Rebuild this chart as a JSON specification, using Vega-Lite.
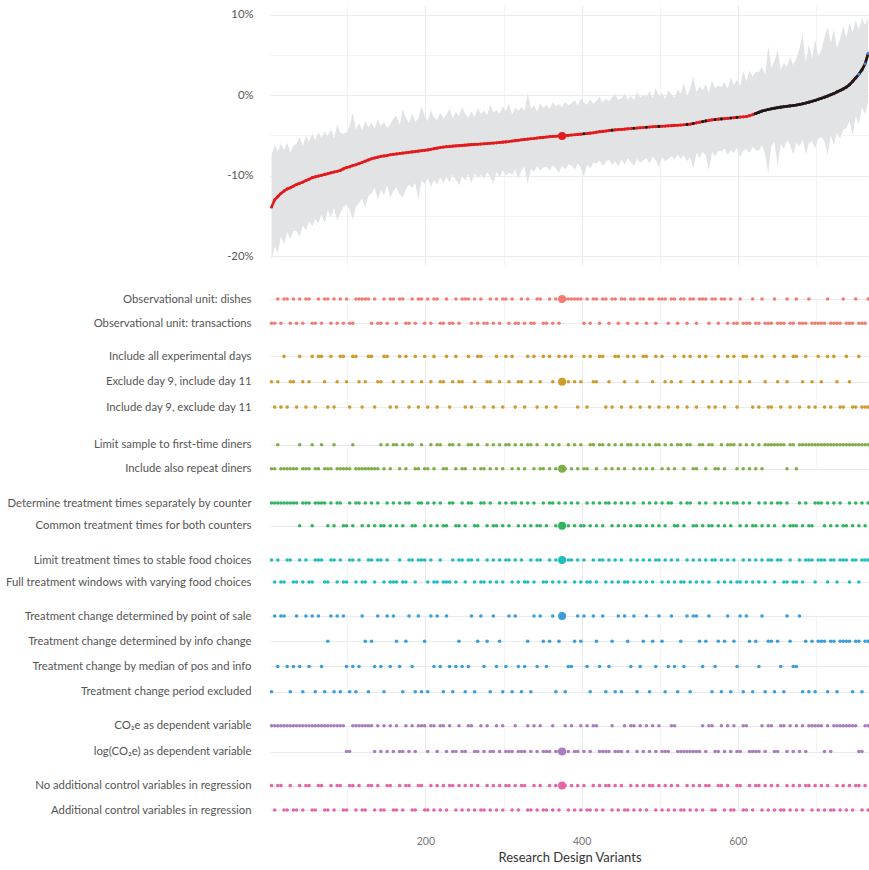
{
"$schema":"https://vega.github.io/schema/vega-lite/v6.json",
"padding":{"left":0,"top":5,"right":0,"bottom":0},
"background":"#ffffff",
"config":{"view":{"stroke":null},"font":"Lato",
"axis":{"domain":false,"ticks":false,"gridColor":"#ebebeb","labelColor":"#555555","labelFont":"Lato","labelFontSize":11.3,"titleFont":"Lato","labelLimit":300},
"axisY":{"labelPadding":19,"minExtent":270,"maxExtent":270,"grid":true,"gridWidth":1.2},
"axisX":{"grid":true}},
"datasets":{"d":[
{"x":3,"e":-13.9,"l":-20.5,"h":-7.4,"s":"neg","a":2,"b":2,"c":2,"d":1,"w":1,"t":4,"v":1,"r":1},
{"x":7,"e":-13.0,"l":-18.8,"h":-6.2,"s":"neg","a":2,"b":3,"c":2,"d":1,"w":2,"t":1,"v":1,"r":2},
{"x":11,"e":-12.6,"l":-19.6,"h":-7.0,"s":"neg","a":1,"b":2,"c":1,"d":1,"w":1,"t":3,"v":1,"r":1},
{"x":15,"e":-12.2,"l":-17.6,"h":-6.0,"s":"neg","a":2,"b":3,"c":2,"d":1,"w":2,"t":1,"v":1,"r":1},
{"x":19,"e":-11.9,"l":-18.5,"h":-6.8,"s":"neg","a":1,"b":1,"c":2,"d":1,"w":2,"t":1,"v":1,"r":2},
{"x":23,"e":-11.65,"l":-17.0,"h":-5.9,"s":"neg","a":1,"b":3,"c":2,"d":1,"w":1,"t":3,"v":1,"r":2},
{"x":27,"e":-11.5,"l":-17.9,"h":-7.1,"s":"neg","a":2,"b":2,"c":2,"d":1,"w":1,"t":4,"v":1,"r":1},
{"x":31,"e":-11.3,"l":-16.8,"h":-6.3,"s":"neg","a":1,"b":2,"c":2,"d":1,"w":2,"t":3,"v":1,"r":2},
{"x":35,"e":-11.1,"l":-16.9,"h":-6.0,"s":"neg","a":2,"b":3,"c":2,"d":1,"w":2,"t":1,"v":1,"r":2},
{"x":39,"e":-10.95,"l":-17.6,"h":-5.2,"s":"neg","a":1,"b":1,"c":1,"d":2,"w":1,"t":3,"v":1,"r":1},
{"x":43,"e":-10.8,"l":-16.2,"h":-6.3,"s":"neg","a":2,"b":2,"c":2,"d":1,"w":2,"t":4,"v":1,"r":2},
{"x":47,"e":-10.6,"l":-16.8,"h":-5.0,"s":"neg","a":1,"b":3,"c":2,"d":1,"w":1,"t":1,"v":1,"r":1},
{"x":51,"e":-10.45,"l":-15.7,"h":-5.8,"s":"neg","a":1,"b":2,"c":2,"d":1,"w":2,"t":3,"v":1,"r":1},
{"x":55,"e":-10.25,"l":-16.3,"h":-4.8,"s":"neg","a":2,"b":1,"c":1,"d":2,"w":2,"t":1,"v":1,"r":2},
{"x":59,"e":-10.15,"l":-15.4,"h":-5.6,"s":"neg","a":2,"b":3,"c":2,"d":1,"w":1,"t":4,"v":1,"r":2},
{"x":63,"e":-10.05,"l":-15.9,"h":-4.6,"s":"neg","a":1,"b":1,"c":2,"d":1,"w":1,"t":1,"v":1,"r":1},
{"x":67,"e":-9.95,"l":-14.8,"h":-5.3,"s":"neg","a":2,"b":1,"c":1,"d":1,"w":1,"t":3,"v":1,"r":1},
{"x":71,"e":-9.85,"l":-15.9,"h":-4.5,"s":"neg","a":1,"b":2,"c":2,"d":1,"w":2,"t":4,"v":1,"r":2},
{"x":75,"e":-9.75,"l":-14.3,"h":-5.1,"s":"neg","a":1,"b":3,"c":2,"d":2,"w":2,"t":2,"v":1,"r":2},
{"x":79,"e":-9.65,"l":-15.2,"h":-4.2,"s":"neg","a":2,"b":1,"c":2,"d":1,"w":1,"t":1,"v":1,"r":1},
{"x":83,"e":-9.55,"l":-14.0,"h":-5.4,"s":"neg","a":1,"b":3,"c":1,"d":2,"w":1,"t":4,"v":1,"r":2},
{"x":87,"e":-9.45,"l":-15.6,"h":-3.6,"s":"neg","a":2,"b":2,"c":2,"d":1,"w":2,"t":1,"v":1,"r":1},
{"x":91,"e":-9.35,"l":-14.6,"h":-4.7,"s":"neg","a":1,"b":1,"c":2,"d":1,"w":1,"t":4,"v":1,"r":1},
{"x":95,"e":-9.15,"l":-13.9,"h":-4.8,"s":"neg","a":2,"b":1,"c":2,"d":2,"w":2,"t":1,"v":1,"r":2},
{"x":99,"e":-9.0,"l":-13.6,"h":-4.6,"s":"neg","a":1,"b":2,"c":2,"d":2,"w":2,"t":3,"v":2,"r":2},
{"x":103,"e":-8.9,"l":-14.2,"h":-3.9,"s":"neg","a":2,"b":3,"c":2,"d":1,"w":1,"t":4,"v":2,"r":1},
{"x":107,"e":-8.75,"l":-15.5,"h":-2.2,"s":"neg","a":2,"b":1,"c":1,"d":2,"w":1,"t":3,"v":1,"r":1},
{"x":111,"e":-8.65,"l":-13.9,"h":-4.3,"s":"neg","a":1,"b":1,"c":2,"d":1,"w":2,"t":4,"v":1,"r":2},
{"x":115,"e":-8.5,"l":-13.4,"h":-3.5,"s":"neg","a":1,"b":2,"c":2,"d":1,"w":1,"t":3,"v":1,"r":1},
{"x":119,"e":-8.35,"l":-12.8,"h":-4.4,"s":"neg","a":1,"b":3,"c":2,"d":2,"w":2,"t":1,"v":1,"r":2},
{"x":123,"e":-8.2,"l":-14.0,"h":-3.2,"s":"neg","a":1,"b":2,"c":2,"d":1,"w":2,"t":2,"v":1,"r":2},
{"x":127,"e":-8.05,"l":-12.5,"h":-4.0,"s":"neg","a":1,"b":1,"c":2,"d":2,"w":1,"t":4,"v":1,"r":1},
{"x":131,"e":-7.9,"l":-12.2,"h":-3.4,"s":"neg","a":2,"b":1,"c":2,"d":1,"w":1,"t":2,"v":1,"r":1},
{"x":135,"e":-7.8,"l":-11.5,"h":-4.2,"s":"neg","a":1,"b":3,"c":2,"d":2,"w":2,"t":3,"v":2,"r":2},
{"x":139,"e":-7.7,"l":-13.0,"h":-3.0,"s":"neg","a":2,"b":2,"c":2,"d":1,"w":1,"t":1,"v":1,"r":1},
{"x":143,"e":-7.6,"l":-11.8,"h":-3.9,"s":"neg","a":2,"b":2,"c":1,"d":2,"w":1,"t":3,"v":2,"r":2},
{"x":147,"e":-7.55,"l":-12.4,"h":-3.3,"s":"neg","a":1,"b":1,"c":2,"d":2,"w":2,"t":4,"v":1,"r":2},
{"x":151,"e":-7.5,"l":-11.2,"h":-4.1,"s":"neg","a":2,"b":1,"c":1,"d":1,"w":1,"t":1,"v":2,"r":1},
{"x":155,"e":-7.4,"l":-12.7,"h":-3.6,"s":"neg","a":1,"b":3,"c":2,"d":2,"w":2,"t":3,"v":1,"r":1},
{"x":159,"e":-7.35,"l":-11.9,"h":-2.9,"s":"neg","a":1,"b":2,"c":1,"d":1,"w":2,"t":1,"v":2,"r":2},
{"x":163,"e":-7.3,"l":-11.4,"h":-2.6,"s":"neg","a":2,"b":3,"c":1,"d":2,"w":2,"t":2,"v":1,"r":2},
{"x":167,"e":-7.25,"l":-12.3,"h":-3.7,"s":"neg","a":1,"b":1,"c":2,"d":1,"w":1,"t":3,"v":2,"r":1},
{"x":171,"e":-7.2,"l":-12.7,"h":-1.8,"s":"neg","a":1,"b":2,"c":1,"d":2,"w":2,"t":4,"v":2,"r":2},
{"x":175,"e":-7.15,"l":-11.7,"h":-2.8,"s":"neg","a":2,"b":1,"c":2,"d":1,"w":2,"t":2,"v":1,"r":1},
{"x":179,"e":-7.1,"l":-11.1,"h":-3.5,"s":"neg","a":2,"b":3,"c":1,"d":1,"w":1,"t":1,"v":2,"r":1},
{"x":183,"e":-7.05,"l":-11.5,"h":-2.3,"s":"neg","a":1,"b":2,"c":1,"d":2,"w":1,"t":3,"v":1,"r":2},
{"x":187,"e":-7.0,"l":-10.9,"h":-3.3,"s":"neg","a":2,"b":1,"c":2,"d":2,"w":2,"t":4,"v":2,"r":2},
{"x":191,"e":-6.95,"l":-13.0,"h":-2.9,"s":"neg","a":1,"b":3,"c":2,"d":1,"w":1,"t":1,"v":1,"r":1},
{"x":195,"e":-6.9,"l":-10.6,"h":-1.4,"s":"neg","a":1,"b":2,"c":1,"d":1,"w":1,"t":4,"v":1,"r":1},
{"x":199,"e":-6.85,"l":-11.0,"h":-2.5,"s":"neg","a":2,"b":1,"c":2,"d":2,"w":1,"t":2,"v":1,"r":2},
{"x":203,"e":-6.8,"l":-10.3,"h":-3.2,"s":"neg","a":1,"b":3,"c":2,"d":1,"w":2,"t":4,"v":2,"r":2},
{"x":207,"e":-6.72,"l":-11.4,"h":-1.9,"s":"neg","a":2,"b":2,"c":1,"d":2,"w":1,"t":1,"v":1,"r":1},
{"x":211,"e":-6.65,"l":-10.5,"h":-2.7,"s":"neg","a":1,"b":1,"c":2,"d":1,"w":2,"t":3,"v":1,"r":2},
{"x":215,"e":-6.58,"l":-11.1,"h":-3.1,"s":"neg","a":1,"b":3,"c":1,"d":2,"w":2,"t":1,"v":2,"r":1},
{"x":219,"e":-6.5,"l":-10.2,"h":-2.2,"s":"neg","a":2,"b":2,"c":1,"d":1,"w":1,"t":3,"v":1,"r":2},
{"x":223,"e":-6.45,"l":-10.9,"h":-2.9,"s":"neg","a":2,"b":2,"c":2,"d":2,"w":2,"t":4,"v":1,"r":1},
{"x":227,"e":-6.4,"l":-10.2,"h":-2.4,"s":"neg","a":1,"b":1,"c":2,"d":2,"w":2,"t":1,"v":2,"r":2},
{"x":231,"e":-6.37,"l":-10.8,"h":-1.7,"s":"neg","a":2,"b":3,"c":1,"d":1,"w":2,"t":3,"v":1,"r":1},
{"x":235,"e":-6.33,"l":-9.9,"h":-2.9,"s":"neg","a":2,"b":2,"c":1,"d":1,"w":1,"t":4,"v":2,"r":1},
{"x":239,"e":-6.3,"l":-10.5,"h":-2.1,"s":"neg","a":1,"b":1,"c":2,"d":2,"w":2,"t":3,"v":2,"r":2},
{"x":243,"e":-6.27,"l":-11.2,"h":-2.6,"s":"neg","a":2,"b":2,"c":1,"d":2,"w":1,"t":2,"v":1,"r":1},
{"x":247,"e":-6.24,"l":-10.0,"h":-1.5,"s":"neg","a":1,"b":2,"c":2,"d":1,"w":1,"t":3,"v":2,"r":2},
{"x":251,"e":-6.21,"l":-10.6,"h":-2.3,"s":"neg","a":1,"b":3,"c":2,"d":2,"w":2,"t":4,"v":2,"r":1},
{"x":255,"e":-6.18,"l":-9.8,"h":-2.8,"s":"neg","a":1,"b":1,"c":1,"d":1,"w":1,"t":3,"v":1,"r":2},
{"x":259,"e":-6.15,"l":-10.9,"h":-2.0,"s":"neg","a":2,"b":3,"c":1,"d":1,"w":1,"t":1,"v":1,"r":1},
{"x":263,"e":-6.12,"l":-9.7,"h":-2.7,"s":"neg","a":1,"b":2,"c":2,"d":2,"w":2,"t":4,"v":2,"r":2},
{"x":267,"e":-6.1,"l":-10.3,"h":-1.6,"s":"neg","a":2,"b":1,"c":1,"d":2,"w":1,"t":2,"v":2,"r":1},
{"x":271,"e":-6.07,"l":-9.9,"h":-2.3,"s":"neg","a":1,"b":1,"c":2,"d":1,"w":2,"t":1,"v":1,"r":2},
{"x":275,"e":-6.04,"l":-10.4,"h":-1.9,"s":"neg","a":2,"b":3,"c":2,"d":1,"w":2,"t":3,"v":2,"r":2},
{"x":279,"e":-6.01,"l":-9.6,"h":-2.5,"s":"neg","a":2,"b":2,"c":1,"d":2,"w":1,"t":2,"v":1,"r":1},
{"x":283,"e":-5.98,"l":-10.1,"h":-1.2,"s":"neg","a":1,"b":2,"c":2,"d":1,"w":2,"t":4,"v":2,"r":2},
{"x":287,"e":-5.95,"l":-11.0,"h":-2.2,"s":"neg","a":2,"b":3,"c":1,"d":2,"w":1,"t":1,"v":2,"r":1},
{"x":291,"e":-5.92,"l":-9.5,"h":-1.8,"s":"neg","a":1,"b":1,"c":2,"d":2,"w":2,"t":3,"v":1,"r":2},
{"x":295,"e":-5.88,"l":-10.2,"h":-2.3,"s":"neg","a":2,"b":2,"c":1,"d":1,"w":1,"t":2,"v":2,"r":1},
{"x":299,"e":-5.84,"l":-9.3,"h":-1.4,"s":"neg","a":1,"b":3,"c":2,"d":2,"w":2,"t":4,"v":1,"r":2},
{"x":303,"e":-5.8,"l":-10.0,"h":-2.0,"s":"neg","a":1,"b":1,"c":1,"d":1,"w":1,"t":3,"v":2,"r":1},
{"x":307,"e":-5.76,"l":-9.6,"h":-1.1,"s":"neg","a":2,"b":2,"c":1,"d":2,"w":1,"t":1,"v":2,"r":1},
{"x":311,"e":-5.7,"l":-9.9,"h":-2.4,"s":"neg","a":1,"b":1,"c":2,"d":1,"w":2,"t":4,"v":2,"r":2},
{"x":315,"e":-5.65,"l":-9.2,"h":-1.6,"s":"neg","a":2,"b":3,"c":1,"d":1,"w":1,"t":1,"v":1,"r":1},
{"x":319,"e":-5.6,"l":-10.4,"h":-1.9,"s":"neg","a":2,"b":2,"c":2,"d":2,"w":2,"t":3,"v":2,"r":2},
{"x":323,"e":-5.55,"l":-9.3,"h":-1.5,"s":"neg","a":1,"b":2,"c":1,"d":1,"w":1,"t":4,"v":2,"r":1},
{"x":327,"e":-5.5,"l":-8.9,"h":-1.9,"s":"neg","a":2,"b":3,"c":2,"d":2,"w":2,"t":3,"v":2,"r":1},
{"x":331,"e":-5.46,"l":-11.1,"h":0.3,"s":"neg","a":1,"b":1,"c":1,"d":1,"w":2,"t":2,"v":1,"r":2},
{"x":335,"e":-5.42,"l":-9.1,"h":-1.7,"s":"neg","a":2,"b":2,"c":1,"d":2,"w":1,"t":4,"v":2,"r":2},
{"x":339,"e":-5.38,"l":-9.5,"h":-1.3,"s":"neg","a":2,"b":1,"c":2,"d":1,"w":2,"t":1,"v":1,"r":1},
{"x":343,"e":-5.33,"l":-8.8,"h":-2.0,"s":"neg","a":1,"b":3,"c":1,"d":2,"w":1,"t":3,"v":2,"r":2},
{"x":347,"e":-5.28,"l":-9.4,"h":-1.0,"s":"neg","a":1,"b":2,"c":2,"d":2,"w":1,"t":1,"v":1,"r":1},
{"x":351,"e":-5.24,"l":-9.0,"h":-1.6,"s":"neg","a":2,"b":1,"c":2,"d":1,"w":2,"t":2,"v":2,"r":2},
{"x":355,"e":-5.2,"l":-8.9,"h":-1.2,"s":"neg","a":2,"b":3,"c":1,"d":2,"w":2,"t":3,"v":2,"r":2},
{"x":359,"e":-5.16,"l":-9.4,"h":-1.7,"s":"neg","a":1,"b":1,"c":2,"d":1,"w":1,"t":2,"v":2,"r":1},
{"x":363,"e":-5.13,"l":-8.7,"h":-0.9,"s":"neg","a":2,"b":2,"c":1,"d":1,"w":2,"t":1,"v":1,"r":2},
{"x":367,"e":-5.1,"l":-9.1,"h":-1.4,"s":"neg","a":1,"b":3,"c":2,"d":2,"w":1,"t":4,"v":2,"r":1},
{"x":371,"e":-5.08,"l":-9.6,"h":-1.1,"s":"neg","a":2,"b":1,"c":1,"d":1,"w":2,"t":2,"v":2,"r":2},
{"x":375,"e":-5.06,"l":-8.8,"h":-1.5,"s":"neg","a":1,"b":2,"c":2,"d":2,"w":1,"t":1,"v":2,"r":1},
{"x":379,"e":-5.03,"l":-9.2,"h":-0.8,"s":"neg","a":1,"b":1,"c":2,"d":1,"w":2,"t":4,"v":1,"r":1},
{"x":383,"e":-4.99,"l":-8.6,"h":-1.3,"s":"neg","a":1,"b":2,"c":1,"d":2,"w":1,"t":3,"v":2,"r":2},
{"x":387,"e":-4.95,"l":-8.7,"h":-1.0,"s":"neg","a":1,"b":1,"c":2,"d":1,"w":1,"t":3,"v":1,"r":1},
{"x":391,"e":-4.92,"l":-9.3,"h":-0.6,"s":"neg","a":1,"b":2,"c":1,"d":2,"w":2,"t":2,"v":2,"r":2},
{"x":395,"e":-4.88,"l":-8.5,"h":-1.3,"s":"neg","a":1,"b":3,"c":2,"d":1,"w":1,"t":1,"v":2,"r":1},
{"x":399,"e":-4.85,"l":-9.0,"h":-0.4,"s":"neg","a":1,"b":2,"c":1,"d":2,"w":2,"t":2,"v":1,"r":2},
{"x":403,"e":-4.8,"l":-10.1,"h":-0.9,"s":"ns","a":2,"b":1,"c":2,"d":2,"w":1,"t":1,"v":2,"r":1},
{"x":407,"e":-4.76,"l":-8.6,"h":-1.2,"s":"neg","a":1,"b":3,"c":2,"d":1,"w":2,"t":3,"v":1,"r":2},
{"x":411,"e":-4.72,"l":-9.1,"h":-0.5,"s":"neg","a":2,"b":1,"c":1,"d":2,"w":2,"t":4,"v":2,"r":2},
{"x":415,"e":-4.68,"l":-8.4,"h":-1.1,"s":"neg","a":1,"b":2,"c":1,"d":1,"w":1,"t":1,"v":1,"r":1},
{"x":419,"e":-4.6,"l":-8.5,"h":-0.7,"s":"neg","a":1,"b":2,"c":2,"d":2,"w":2,"t":2,"v":1,"r":2},
{"x":423,"e":-4.54,"l":-8.1,"h":-0.2,"s":"neg","a":2,"b":1,"c":1,"d":1,"w":1,"t":3,"v":2,"r":1},
{"x":427,"e":-4.5,"l":-8.8,"h":-0.9,"s":"neg","a":1,"b":1,"c":1,"d":2,"w":1,"t":1,"v":2,"r":2},
{"x":431,"e":-4.45,"l":-8.3,"h":-0.4,"s":"neg","a":1,"b":3,"c":2,"d":1,"w":2,"t":4,"v":2,"r":1},
{"x":435,"e":-4.4,"l":-8.0,"h":-0.8,"s":"neg","a":2,"b":2,"c":1,"d":1,"w":1,"t":3,"v":2,"r":1},
{"x":439,"e":-4.35,"l":-8.6,"h":-0.3,"s":"ns","a":1,"b":3,"c":2,"d":2,"w":2,"t":2,"v":1,"r":2},
{"x":443,"e":-4.31,"l":-8.2,"h":0.1,"s":"neg","a":1,"b":1,"c":1,"d":1,"w":1,"t":4,"v":2,"r":1},
{"x":447,"e":-4.28,"l":-8.9,"h":-0.6,"s":"neg","a":2,"b":1,"c":2,"d":2,"w":2,"t":1,"v":2,"r":2},
{"x":451,"e":-4.25,"l":-8.0,"h":-0.4,"s":"neg","a":1,"b":3,"c":1,"d":1,"w":1,"t":4,"v":2,"r":1},
{"x":455,"e":-4.22,"l":-8.6,"h":0.2,"s":"neg","a":1,"b":2,"c":2,"d":2,"w":2,"t":1,"v":1,"r":2},
{"x":459,"e":-4.18,"l":-7.8,"h":-0.5,"s":"neg","a":2,"b":1,"c":1,"d":1,"w":2,"t":2,"v":2,"r":2},
{"x":463,"e":-4.15,"l":-8.3,"h":-0.1,"s":"neg","a":1,"b":3,"c":1,"d":2,"w":1,"t":3,"v":1,"r":1},
{"x":467,"e":-4.11,"l":-8.8,"h":-0.6,"s":"ns","a":1,"b":1,"c":2,"d":1,"w":2,"t":1,"v":1,"r":2},
{"x":471,"e":-4.08,"l":-7.9,"h":0.4,"s":"neg","a":2,"b":2,"c":1,"d":2,"w":1,"t":4,"v":2,"r":1},
{"x":475,"e":-4.05,"l":-8.4,"h":-0.3,"s":"neg","a":1,"b":3,"c":2,"d":2,"w":2,"t":3,"v":1,"r":2},
{"x":479,"e":-4.02,"l":-8.1,"h":0.0,"s":"neg","a":1,"b":1,"c":1,"d":1,"w":1,"t":2,"v":2,"r":1},
{"x":483,"e":-3.99,"l":-7.8,"h":-0.2,"s":"ns","a":2,"b":1,"c":2,"d":2,"w":2,"t":1,"v":1,"r":2},
{"x":487,"e":-3.96,"l":-8.5,"h":0.5,"s":"neg","a":1,"b":3,"c":1,"d":1,"w":1,"t":4,"v":2,"r":1},
{"x":491,"e":-3.93,"l":-7.6,"h":-0.4,"s":"neg","a":1,"b":2,"c":2,"d":2,"w":2,"t":2,"v":1,"r":1},
{"x":495,"e":-3.9,"l":-8.1,"h":0.9,"s":"neg","a":2,"b":1,"c":1,"d":1,"w":1,"t":3,"v":2,"r":2},
{"x":499,"e":-3.88,"l":-9.0,"h":-0.1,"s":"ns","a":1,"b":3,"c":1,"d":2,"w":1,"t":1,"v":1,"r":1},
{"x":503,"e":-3.86,"l":-7.7,"h":0.3,"s":"neg","a":1,"b":1,"c":2,"d":1,"w":2,"t":2,"v":2,"r":2},
{"x":507,"e":-3.84,"l":-8.2,"h":-0.5,"s":"neg","a":1,"b":2,"c":1,"d":2,"w":1,"t":4,"v":2,"r":1},
{"x":511,"e":-3.81,"l":-7.9,"h":0.6,"s":"neg","a":2,"b":3,"c":2,"d":1,"w":2,"t":3,"v":2,"r":2},
{"x":515,"e":-3.79,"l":-7.6,"h":0.1,"s":"neg","a":1,"b":2,"c":1,"d":1,"w":1,"t":1,"v":1,"r":1},
{"x":519,"e":-3.76,"l":-8.0,"h":-0.3,"s":"neg","a":1,"b":1,"c":2,"d":2,"w":2,"t":3,"v":1,"r":2},
{"x":523,"e":-3.74,"l":-7.4,"h":0.7,"s":"neg","a":2,"b":3,"c":1,"d":2,"w":1,"t":4,"v":2,"r":1},
{"x":527,"e":-3.71,"l":-7.9,"h":0.2,"s":"neg","a":1,"b":2,"c":1,"d":1,"w":2,"t":2,"v":2,"r":2},
{"x":531,"e":-3.68,"l":-7.5,"h":1.5,"s":"neg","a":1,"b":1,"c":2,"d":2,"w":2,"t":3,"v":2,"r":2},
{"x":535,"e":-3.64,"l":-8.2,"h":-0.1,"s":"ns","a":2,"b":3,"c":1,"d":1,"w":1,"t":1,"v":2,"r":1},
{"x":539,"e":-3.6,"l":-7.7,"h":0.8,"s":"neg","a":1,"b":1,"c":1,"d":1,"w":2,"t":4,"v":2,"r":2},
{"x":543,"e":-3.52,"l":-9.1,"h":2.3,"s":"ns","a":1,"b":2,"c":2,"d":2,"w":1,"t":1,"v":2,"r":1},
{"x":547,"e":-3.44,"l":-7.2,"h":0.4,"s":"neg","a":2,"b":3,"c":2,"d":2,"w":2,"t":1,"v":2,"r":2},
{"x":551,"e":-3.36,"l":-7.8,"h":1.1,"s":"neg","a":1,"b":1,"c":1,"d":1,"w":1,"t":2,"v":2,"r":1},
{"x":555,"e":-3.28,"l":-7.0,"h":0.6,"s":"ns","a":1,"b":2,"c":1,"d":2,"w":2,"t":3,"v":1,"r":2},
{"x":559,"e":-3.2,"l":-7.5,"h":1.4,"s":"ns","a":1,"b":1,"c":2,"d":1,"w":1,"t":2,"v":2,"r":1},
{"x":563,"e":-3.13,"l":-9.3,"h":0.3,"s":"neg","a":2,"b":3,"c":1,"d":2,"w":2,"t":1,"v":1,"r":1},
{"x":567,"e":-3.07,"l":-7.1,"h":1.8,"s":"neg","a":1,"b":2,"c":1,"d":2,"w":1,"t":4,"v":1,"r":2},
{"x":571,"e":-3.02,"l":-7.6,"h":0.9,"s":"ns","a":1,"b":3,"c":2,"d":1,"w":1,"t":3,"v":2,"r":2},
{"x":575,"e":-2.98,"l":-6.9,"h":1.2,"s":"neg","a":2,"b":1,"c":2,"d":2,"w":2,"t":2,"v":2,"r":1},
{"x":579,"e":-2.95,"l":-7.0,"h":1.0,"s":"ns","a":1,"b":2,"c":1,"d":1,"w":1,"t":4,"v":1,"r":1},
{"x":583,"e":-2.92,"l":-6.6,"h":1.6,"s":"neg","a":1,"b":3,"c":2,"d":2,"w":2,"t":2,"v":2,"r":2},
{"x":587,"e":-2.88,"l":-7.4,"h":0.8,"s":"neg","a":2,"b":1,"c":1,"d":1,"w":1,"t":1,"v":1,"r":1},
{"x":591,"e":-2.84,"l":-6.8,"h":2.2,"s":"ns","a":1,"b":2,"c":1,"d":2,"w":2,"t":4,"v":2,"r":2},
{"x":595,"e":-2.8,"l":-7.2,"h":1.3,"s":"neg","a":2,"b":1,"c":1,"d":1,"w":1,"t":2,"v":1,"r":2},
{"x":599,"e":-2.76,"l":-6.5,"h":1.9,"s":"ns","a":2,"b":3,"c":2,"d":1,"w":2,"t":3,"v":2,"r":1},
{"x":603,"e":-2.72,"l":-7.7,"h":1.1,"s":"neg","a":1,"b":2,"c":1,"d":2,"w":2,"t":1,"v":2,"r":1},
{"x":607,"e":-2.69,"l":-6.9,"h":3.0,"s":"neg","a":2,"b":1,"c":2,"d":1,"w":1,"t":4,"v":1,"r":2},
{"x":611,"e":-2.65,"l":-6.7,"h":1.7,"s":"neg","a":2,"b":1,"c":1,"d":2,"w":2,"t":1,"v":1,"r":2},
{"x":615,"e":-2.55,"l":-7.2,"h":3.1,"s":"neg","a":2,"b":2,"c":2,"d":1,"w":1,"t":2,"v":2,"r":1},
{"x":619,"e":-2.42,"l":-6.4,"h":2.3,"s":"neg","a":1,"b":3,"c":1,"d":2,"w":2,"t":4,"v":2,"r":2},
{"x":623,"e":-2.28,"l":-6.8,"h":2.9,"s":"ns","a":2,"b":1,"c":2,"d":2,"w":1,"t":2,"v":2,"r":1},
{"x":627,"e":-2.13,"l":-6.9,"h":2.8,"s":"ns","a":2,"b":3,"c":1,"d":1,"w":2,"t":3,"v":2,"r":1},
{"x":631,"e":-1.98,"l":-6.2,"h":3.6,"s":"ns","a":1,"b":1,"c":2,"d":2,"w":1,"t":1,"v":1,"r":2},
{"x":635,"e":-1.88,"l":-7.4,"h":2.5,"s":"ns","a":2,"b":2,"c":1,"d":1,"w":2,"t":4,"v":2,"r":1},
{"x":639,"e":-1.78,"l":-9.7,"h":6.1,"s":"ns","a":2,"b":3,"c":1,"d":2,"w":1,"t":2,"v":1,"r":2},
{"x":643,"e":-1.7,"l":-6.3,"h":3.4,"s":"ns","a":2,"b":3,"c":1,"d":1,"w":1,"t":2,"v":1,"r":1},
{"x":647,"e":-1.62,"l":-5.8,"h":4.3,"s":"ns","a":1,"b":1,"c":1,"d":2,"w":2,"t":4,"v":2,"r":2},
{"x":651,"e":-1.55,"l":-8.9,"h":5.6,"s":"ns","a":2,"b":2,"c":1,"d":1,"w":1,"t":2,"v":2,"r":1},
{"x":655,"e":-1.49,"l":-6.0,"h":3.1,"s":"ns","a":2,"b":3,"c":1,"d":1,"w":1,"t":3,"v":1,"r":2},
{"x":659,"e":-1.43,"l":-6.7,"h":4.0,"s":"ns","a":2,"b":1,"c":1,"d":2,"w":2,"t":4,"v":1,"r":2},
{"x":663,"e":-1.38,"l":-5.6,"h":3.5,"s":"ns","a":1,"b":2,"c":2,"d":1,"w":2,"t":1,"v":2,"r":1},
{"x":667,"e":-1.33,"l":-6.2,"h":4.8,"s":"ns","a":2,"b":3,"c":1,"d":2,"w":1,"t":2,"v":1,"r":2},
{"x":671,"e":-1.28,"l":-7.3,"h":3.7,"s":"ns","a":2,"b":1,"c":1,"d":2,"w":2,"t":3,"v":2,"r":1},
{"x":675,"e":-1.22,"l":-5.9,"h":4.6,"s":"ns","a":1,"b":1,"c":2,"d":2,"w":2,"t":3,"v":1,"r":2},
{"x":679,"e":-1.15,"l":-6.4,"h":5.8,"s":"ns","a":2,"b":3,"c":1,"d":1,"w":1,"t":1,"v":2,"r":1},
{"x":683,"e":-1.08,"l":-5.5,"h":7.6,"s":"ns","a":2,"b":2,"c":1,"d":2,"w":2,"t":4,"v":1,"r":2},
{"x":687,"e":-0.98,"l":-7.3,"h":4.1,"s":"ns","a":2,"b":1,"c":1,"d":1,"w":1,"t":2,"v":2,"r":1},
{"x":691,"e":-0.87,"l":-6.0,"h":6.3,"s":"ns","a":1,"b":3,"c":1,"d":2,"w":1,"t":4,"v":1,"r":1},
{"x":695,"e":-0.76,"l":-5.7,"h":4.5,"s":"ns","a":2,"b":2,"c":1,"d":2,"w":1,"t":2,"v":1,"r":2},
{"x":699,"e":-0.65,"l":-6.6,"h":6.9,"s":"ns","a":2,"b":3,"c":1,"d":1,"w":2,"t":4,"v":1,"r":1},
{"x":703,"e":-0.52,"l":-5.4,"h":4.9,"s":"ns","a":2,"b":1,"c":1,"d":1,"w":1,"t":2,"v":1,"r":2},
{"x":707,"e":-0.38,"l":-5.2,"h":5.6,"s":"ns","a":2,"b":2,"c":1,"d":1,"w":1,"t":2,"v":1,"r":1},
{"x":711,"e":-0.25,"l":-5.8,"h":7.2,"s":"ns","a":2,"b":3,"c":1,"d":2,"w":1,"t":2,"v":2,"r":2},
{"x":715,"e":-0.1,"l":-7.4,"h":8.5,"s":"ns","a":1,"b":1,"c":1,"d":1,"w":2,"t":4,"v":1,"r":1},
{"x":719,"e":0.05,"l":-5.0,"h":6.5,"s":"ns","a":2,"b":3,"c":1,"d":2,"w":1,"t":2,"v":2,"r":2},
{"x":723,"e":0.2,"l":-6.2,"h":8.1,"s":"ns","a":2,"b":1,"c":1,"d":1,"w":1,"t":2,"v":1,"r":2},
{"x":727,"e":0.4,"l":-4.6,"h":5.9,"s":"ns","a":2,"b":2,"c":1,"d":2,"w":2,"t":4,"v":1,"r":1},
{"x":731,"e":0.58,"l":-5.4,"h":7.0,"s":"ns","a":2,"b":3,"c":1,"d":1,"w":1,"t":2,"v":1,"r":2},
{"x":735,"e":0.78,"l":-4.3,"h":8.6,"s":"ns","a":1,"b":3,"c":1,"d":2,"w":1,"t":2,"v":1,"r":1},
{"x":739,"e":1.0,"l":-4.1,"h":7.1,"s":"ns","a":2,"b":1,"c":1,"d":2,"w":1,"t":2,"v":1,"r":2},
{"x":743,"e":1.3,"l":-3.2,"h":9.0,"s":"ns","a":2,"b":2,"c":1,"d":1,"w":2,"t":2,"v":1,"r":1},
{"x":747,"e":1.7,"l":-5.0,"h":7.8,"s":"ns","a":2,"b":3,"c":1,"d":2,"w":1,"t":4,"v":1,"r":2},
{"x":751,"e":2.15,"l":-2.6,"h":9.3,"s":"ns","a":1,"b":3,"c":1,"d":1,"w":1,"t":2,"v":1,"r":1},
{"x":755,"e":2.6,"l":-3.6,"h":8.2,"s":"pos","a":2,"b":1,"c":1,"d":2,"w":2,"t":2,"v":2,"r":1},
{"x":759,"e":3.15,"l":-1.5,"h":9.5,"s":"ns","a":2,"b":3,"c":1,"d":1,"w":1,"t":4,"v":2,"r":2},
{"x":763,"e":3.9,"l":-2.4,"h":8.7,"s":"pos","a":2,"b":3,"c":1,"d":2,"w":1,"t":2,"v":1,"r":1},
{"x":767,"e":5.2,"l":-0.8,"h":9.6,"s":"pos","a":1,"b":3,"c":1,"d":1,"w":1,"t":2,"v":1,"r":2}
]},
"data":{"name":"d"},
"spacing":18,
"vconcat":[
{"width":599,"height":260,
 "encoding":{"x":{"field":"x","type":"quantitative","scale":{"domain":[1,768],"nice":false,"zero":false},"axis":{"values":[100,200,300,400,500,600,700],"labels":false,"title":null,"gridWidth":{"condition":{"test":"datum.value % 200 === 0","value":1.1},"value":0.55}}}},
 "layer":[
  {"mark":{"type":"area","color":"#e2e3e5","opacity":1},"encoding":{"y":{"field":"l","type":"quantitative","scale":{"domain":[-21.1,11.2],"nice":false,"zero":false},"axis":{"title":null,"values":[-20,-15,-10,-5,0,5,10],"labelExpr":"datum.value % 10 === 0 ? datum.value + '%' : ''","labelPadding":17,"gridWidth":{"condition":{"test":"datum.value % 10 === 0","value":1.1},"value":0.55}}},"y2":{"field":"h"}}},
  {"mark":{"type":"line","color":"#E41A1C","strokeWidth":2.6},"encoding":{"y":{"field":"e","type":"quantitative","axis":{"title":null}}}},
  {"transform":[{"filter":{"field":"x","gte":619}}],"mark":{"type":"line","color":"#1A1A1A","strokeWidth":2.6},"encoding":{"y":{"field":"e","type":"quantitative","axis":{"title":null}}}},
  {"mark":{"type":"circle","size":10,"opacity":1},"encoding":{"y":{"field":"e","type":"quantitative","axis":{"title":null}},"color":{"field":"s","type":"nominal","scale":{"domain":["neg","ns","pos"],"range":["#E41A1C","#1A1A1A","#3A8BD0"]},"legend":null}}},
  {"transform":[{"filter":{"field":"x","equal":375}}],"mark":{"type":"circle","size":64,"color":"#E41A1C","opacity":1},"encoding":{"y":{"field":"e","type":"quantitative","axis":{"title":null}}}}
 ]},
{"spacing":0,"vconcat":[
 {"width":599,"height":56.7,
  "encoding":{"x":{"field":"x","type":"quantitative","scale":{"domain":[1,768],"nice":false,"zero":false},"axis":{"values":[100,200,300,400,500,600,700],"labels":false,"title":null,"gridWidth":{"condition":{"test":"datum.value % 200 === 0","value":1.1},"value":0.55}}},
   "y":{"field":"a","type":"ordinal","scale":{"type":"point","domain":[1,2],"range":[16,40.3],"padding":0},"axis":{"title":null,"labelExpr":"['','Observational unit: dishes','Observational unit: transactions'][datum.value]"}},
   "color":{"value":"#F47B74"}},
  "layer":[{"mark":{"type":"circle","size":13,"opacity":1}},{"transform":[{"filter":{"field":"x","equal":375}}],"mark":{"type":"circle","size":64,"opacity":1}}]},
 {"width":599,"height":85.8,
  "encoding":{"x":{"field":"x","type":"quantitative","scale":{"domain":[1,768],"nice":false,"zero":false},"axis":{"values":[100,200,300,400,500,600,700],"labels":false,"title":null,"gridWidth":{"condition":{"test":"datum.value % 200 === 0","value":1.1},"value":0.55}}},
   "y":{"field":"b","type":"ordinal","scale":{"type":"point","domain":[1,2,3],"range":[16.4,67.1],"padding":0},"axis":{"title":null,"labelExpr":"['','Include all experimental days','Exclude day 9, include day 11','Include day 9, exclude day 11'][datum.value]"}},
   "color":{"value":"#CF9A2E"}},
  "layer":[{"mark":{"type":"circle","size":13,"opacity":1}},{"transform":[{"filter":{"field":"x","equal":375}}],"mark":{"type":"circle","size":64,"opacity":1}}]},
 {"width":599,"height":59.8,
  "encoding":{"x":{"field":"x","type":"quantitative","scale":{"domain":[1,768],"nice":false,"zero":false},"axis":{"values":[100,200,300,400,500,600,700],"labels":false,"title":null,"gridWidth":{"condition":{"test":"datum.value % 200 === 0","value":1.1},"value":0.55}}},
   "y":{"field":"c","type":"ordinal","scale":{"type":"point","domain":[1,2],"range":[18.8,42.8],"padding":0},"axis":{"title":null,"labelExpr":"['','Limit sample to first-time diners','Include also repeat diners'][datum.value]"}},
   "color":{"value":"#7FAE47"}},
  "layer":[{"mark":{"type":"circle","size":13,"opacity":1}},{"transform":[{"filter":{"field":"x","equal":375}}],"mark":{"type":"circle","size":64,"opacity":1}}]},
 {"width":599,"height":56.7,
  "encoding":{"x":{"field":"x","type":"quantitative","scale":{"domain":[1,768],"nice":false,"zero":false},"axis":{"values":[100,200,300,400,500,600,700],"labels":false,"title":null,"gridWidth":{"condition":{"test":"datum.value % 200 === 0","value":1.1},"value":0.55}}},
   "y":{"field":"d","type":"ordinal","scale":{"type":"point","domain":[1,2],"range":[17,39.7],"padding":0},"axis":{"title":null,"labelExpr":"['','Determine treatment times separately by counter','Common treatment times for both counters'][datum.value]"}},
   "color":{"value":"#2FB560"}},
  "layer":[{"mark":{"type":"circle","size":13,"opacity":1}},{"transform":[{"filter":{"field":"x","equal":375}}],"mark":{"type":"circle","size":64,"opacity":1}}]},
 {"width":599,"height":56,
  "encoding":{"x":{"field":"x","type":"quantitative","scale":{"domain":[1,768],"nice":false,"zero":false},"axis":{"values":[100,200,300,400,500,600,700],"labels":false,"title":null,"gridWidth":{"condition":{"test":"datum.value % 200 === 0","value":1.1},"value":0.55}}},
   "y":{"field":"w","type":"ordinal","scale":{"type":"point","domain":[1,2],"range":[17,39],"padding":0},"axis":{"title":null,"labelExpr":"['','Limit treatment times to stable food choices','Full treatment windows with varying food choices'][datum.value]"}},
   "color":{"value":"#20BCC0"}},
  "layer":[{"mark":{"type":"circle","size":13,"opacity":1}},{"transform":[{"filter":{"field":"x","equal":375}}],"mark":{"type":"circle","size":64,"opacity":1}}]},
 {"width":599,"height":109.5,
  "encoding":{"x":{"field":"x","type":"quantitative","scale":{"domain":[1,768],"nice":false,"zero":false},"axis":{"values":[100,200,300,400,500,600,700],"labels":false,"title":null,"gridWidth":{"condition":{"test":"datum.value % 200 === 0","value":1.1},"value":0.55}}},
   "y":{"field":"t","type":"ordinal","scale":{"type":"point","domain":[1,2,3,4],"range":[17,92.7],"padding":0},"axis":{"title":null,"labelExpr":"['','Treatment change determined by point of sale','Treatment change determined by info change','Treatment change by median of pos and info','Treatment change period excluded'][datum.value]"}},
   "color":{"value":"#3A9EDB"}},
  "layer":[{"mark":{"type":"circle","size":13,"opacity":1}},{"transform":[{"filter":{"field":"x","equal":375}}],"mark":{"type":"circle","size":64,"opacity":1}}]},
 {"width":599,"height":59.2,
  "encoding":{"x":{"field":"x","type":"quantitative","scale":{"domain":[1,768],"nice":false,"zero":false},"axis":{"values":[100,200,300,400,500,600,700],"labels":false,"title":null,"gridWidth":{"condition":{"test":"datum.value % 200 === 0","value":1.1},"value":0.55}}},
   "y":{"field":"v","type":"ordinal","scale":{"type":"point","domain":[1,2],"range":[16.8,42.5],"padding":0},"axis":{"title":null,"labelExpr":"['','CO₂e as dependent variable','log(CO₂e) as dependent variable'][datum.value]"}},
   "color":{"value":"#A97EBD"}},
  "layer":[{"mark":{"type":"circle","size":13,"opacity":1}},{"transform":[{"filter":{"field":"x","equal":375}}],"mark":{"type":"circle","size":64,"opacity":1}}]},
 {"width":599,"height":57.4,
  "encoding":{"x":{"field":"x","type":"quantitative","scale":{"domain":[1,768],"nice":false,"zero":false},"axis":{"values":[100,200,300,400,500,600,700],"labelExpr":"datum.value % 200 === 0 ? datum.label : ''","title":"Research Design Variants","titleFontSize":13,"titleFontWeight":"normal","titleColor":"#333333","labelColor":"#777777","labelFontSize":10.5,"labelPadding":10,"titlePadding":5,"gridWidth":{"condition":{"test":"datum.value % 200 === 0","value":1.1},"value":0.55}}},
   "y":{"field":"r","type":"ordinal","scale":{"type":"point","domain":[1,2],"range":[16.6,41],"padding":0},"axis":{"title":null,"labelExpr":"['','No additional control variables in regression','Additional control variables in regression'][datum.value]"}},
   "color":{"value":"#E366A8"}},
  "layer":[{"mark":{"type":"circle","size":13,"opacity":1}},{"transform":[{"filter":{"field":"x","equal":375}}],"mark":{"type":"circle","size":64,"opacity":1}}]}
]}
]
}
